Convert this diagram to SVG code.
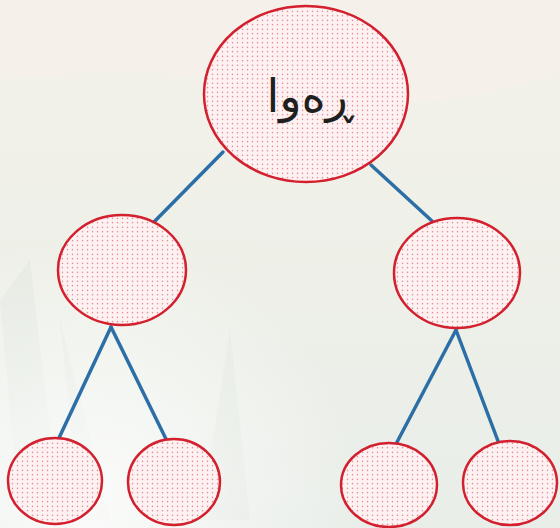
<svg xmlns="http://www.w3.org/2000/svg" width="560" height="528" viewBox="0 0 560 528">
<defs>
<linearGradient id="bg" x1="0" y1="0" x2="0" y2="1">
<stop offset="0" stop-color="#f4f1ea"/>
<stop offset="0.5" stop-color="#eef0e8"/>
<stop offset="1" stop-color="#e9eee9"/>
</linearGradient>
<radialGradient id="glow" cx="0.15" cy="0.95" r="0.5">
<stop offset="0" stop-color="#ffffff" stop-opacity="0.8"/>
<stop offset="1" stop-color="#ffffff" stop-opacity="0"/>
</radialGradient>
<pattern id="dots" width="5" height="4.5" patternUnits="userSpaceOnUse">
<rect width="5" height="4.5" fill="#fdf1f1"/>
<circle cx="2.5" cy="2.25" r="0.75" fill="#e0707a"/>
</pattern>
<style>
.node{fill:url(#dots);stroke:#d2202f;stroke-width:2.5}
.edge{stroke:#2c6ea6;stroke-width:3.5;stroke-linecap:round;fill:none}
.lbl{font-family:"DejaVu Sans","Noto Sans",sans-serif;font-size:46px;fill:#1f1f1f;text-anchor:middle}
</style>
</defs>
<rect width="560" height="528" fill="url(#bg)"/>
<path d="M0 80 Q150 60 300 90 T560 70 L560 0 L0 0 Z" fill="#f6f0ea" opacity="0.7"/>
<path d="M0 300 L20 520 L60 520 L30 260 Z M60 320 L80 520 L110 520 Z M230 330 L200 520 L250 520 Z" fill="#dfe6dd" opacity="0.6"/>
<rect width="560" height="528" fill="url(#glow)"/>
<g id="connectors">
<line class="edge" x1="223" y1="152" x2="150" y2="226"/>
<line class="edge" x1="371" y1="165" x2="432" y2="221"/>
<line class="edge" x1="111" y1="327" x2="59" y2="438"/>
<line class="edge" x1="111" y1="327" x2="166" y2="439"/>
<line class="edge" x1="456" y1="330" x2="396" y2="444"/>
<line class="edge" x1="456" y1="330" x2="498" y2="441"/>
</g>
<g id="root">
<ellipse class="node" cx="306" cy="94" rx="102" ry="88"/>
<text class="lbl" x="310" y="112">ڕەوا</text>
</g>
<g id="mid-left"><ellipse class="node" cx="122" cy="270" rx="64" ry="55"/></g>
<g id="mid-right"><ellipse class="node" cx="457" cy="273" rx="63" ry="55"/></g>
<g id="leaf-1"><ellipse class="node" cx="55" cy="481" rx="47" ry="43"/></g>
<g id="leaf-2"><ellipse class="node" cx="174" cy="482" rx="46" ry="43"/></g>
<g id="leaf-3"><ellipse class="node" cx="389" cy="485" rx="48" ry="42"/></g>
<g id="leaf-4"><ellipse class="node" cx="510" cy="483" rx="47" ry="42"/></g>
</svg>
